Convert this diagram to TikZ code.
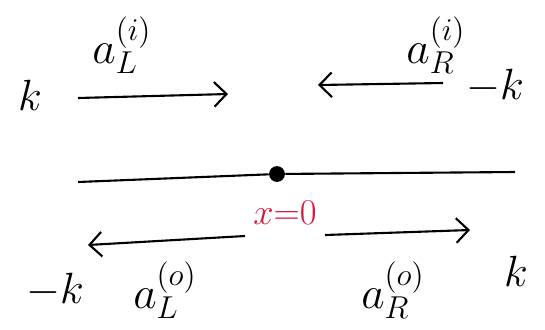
\documentclass[tikz,border=0pt]{standalone}
\usepackage{tikz}
\usetikzlibrary{arrows.meta}
\definecolor{xred}{HTML}{DC143C}

\begin{document}
\begin{tikzpicture}[x=0.02cm, y=-0.02cm,
    wave/.style={line width=1.2pt, -{Straight Barb[length=7pt, width=14pt, line width=1.2pt]}},
    lbl/.style={font=\Huge, inner sep=0pt},
    amp/.style={font=\huge, inner sep=0pt, scale=1.25}]
    \useasboundingbox (0,0) rectangle (545,329);

    % Momenta
    \node[lbl] (kin)   at (30,95)  {$k$};
    \node[lbl] (mkin)  at (495,86) {$-k$};
    \node[lbl] (mkout) at (55,290) {$-k$};
    \node[lbl] (kout)  at (516,271) {$k$};

    % Amplitudes
    \node[amp] (aLi) at (122,45)  {$a_L^{(i)}$};
    \node[amp] (aRi) at (436,45)  {$a_R^{(i)}$};
    \node[amp] (aLo) at (165,290) {$a_L^{(o)}$};
    \node[amp] (aRo) at (393,290) {$a_R^{(o)}$};

    % Arrow ends
    \coordinate (li1) at (78,98);
    \coordinate (li2) at (228,94);
    \coordinate (ri1) at (443,83);
    \coordinate (ri2) at (318,85);
    \coordinate (lo1) at (245,236);
    \coordinate (lo2) at (88,245);
    \coordinate (ro1) at (325,235);
    \coordinate (ro2) at (470,230);

    % Line and scatterer
    \coordinate (xa) at (78,182);
    \coordinate (xb) at (515,172);
    \node[circle, fill=black, inner sep=0pt, minimum size=9pt] (dot) at (277,174) {};
    \node[font=\huge, text=xred, inner sep=0pt] (x0) at (285,213) {$x{=}0$};

    % Diagram
    \draw[line width=1.2pt] (xa) -- (dot) -- (xb);
    \draw[wave] (li1) -- (li2);
    \draw[wave] (ri1) -- (ri2);
    \draw[wave] (lo1) -- (lo2);
    \draw[wave] (ro1) -- (ro2);

\end{tikzpicture}
\end{document}
